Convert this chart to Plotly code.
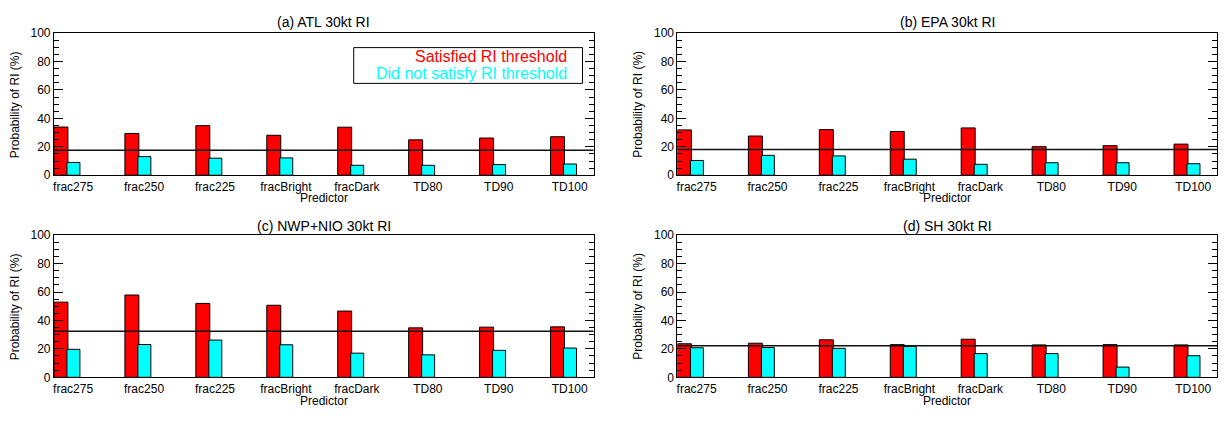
import plotly.graph_objects as go

categories = ["frac275", "frac250", "frac225", "fracBright", "fracDark", "TD80", "TD90", "TD100"]
panel_titles = ["(a) ATL 30kt RI", "(b) EPA 30kt RI", "(c) NWP+NIO 30kt RI", "(d) SH 30kt RI"]

sat_atl = [33.9, 29.4, 34.9, 28.1, 33.8, 24.9, 26.2, 27.1]
not_atl = [9.0, 13.1, 12.0, 12.2, 7.0, 7.0, 7.5, 7.9]
base_atl = 17.5

sat_epa = [31.9, 27.6, 32.1, 30.8, 33.3, 20.1, 20.8, 21.9]
not_epa = [10.4, 14.0, 13.6, 11.3, 7.7, 8.8, 8.8, 8.1]
base_epa = 18.1

sat_nwp = [52.9, 57.9, 52.0, 50.7, 46.6, 34.8, 35.3, 35.5]
not_nwp = [19.7, 23.1, 26.2, 22.9, 17.0, 15.8, 19.0, 20.6]
base_nwp = 32.4

sat_sh = [23.6, 24.0, 26.4, 23.0, 26.8, 22.8, 23.0, 22.8]
not_sh = [20.8, 21.0, 20.4, 21.7, 16.7, 16.7, 7.2, 15.2]
base_sh = 22.2

legend_labels = ["Satisfied RI threshold", "Did not satisfy RI threshold"]
colors = ["#FF0000", "#00FFFF"]

panels = [
    (sat_atl, not_atl, base_atl),
    (sat_epa, not_epa, base_epa),
    (sat_nwp, not_nwp, base_nwp),
    (sat_sh, not_sh, base_sh),
]

W, H = 1225, 423
FONT = "Liberation Sans, Arial, Helvetica, sans-serif"
xdoms = [[53 / W, 593 / W], [677 / W, 1217 / W]]
ydoms = [[1 - 174 / H, 1 - 27 / H], [1 - 383 / H, 1 - 236 / H]]
title_y = [1 - 16 / H, 1 - 226 / H]
pred_y = [1 - 198 / H, 1 - 407 / H]

fig = go.Figure()
layout = dict(
    width=W, height=H, margin=dict(l=0, r=0, t=0, b=0),
    paper_bgcolor="white", plot_bgcolor="white",
    showlegend=False, barmode="overlay",
    font=dict(family=FONT, color="black", size=12),
)
annotations = []
shapes = []
xs = list(range(len(categories)))
for k, (sat, nots, base) in enumerate(panels):
    r, c = divmod(k, 2)
    sfx = "" if k == 0 else str(k + 1)
    fig.add_trace(go.Bar(x=xs, y=sat, width=0.197, offset=0.0,
                         marker=dict(color=colors[0], line=dict(color="black", width=1)),
                         xaxis="x" + sfx, yaxis="y" + sfx, name=legend_labels[0]))
    fig.add_trace(go.Bar(x=xs, y=nots, width=0.183, offset=0.183,
                         marker=dict(color=colors[1], line=dict(color="black", width=1)),
                         xaxis="x" + sfx, yaxis="y" + sfx, name=legend_labels[1]))
    layout["xaxis" + sfx] = dict(
        domain=xdoms[c], anchor="y" + sfx, range=[0, 7.606],
        tickmode="array", tickvals=[i + 0.27 for i in xs], ticktext=categories,
        ticks="", showline=True, linecolor="black", linewidth=1, mirror=True,
        showgrid=False, zeroline=False, tickfont=dict(size=12, family=FONT),
    )
    layout["yaxis" + sfx] = dict(
        domain=ydoms[r], anchor="x" + sfx, range=[0, 100],
        tickmode="linear", tick0=0, dtick=20,
        ticks="inside", ticklen=9, tickwidth=1, tickcolor="black",
        minor=dict(dtick=5, ticks="inside", ticklen=5, tickcolor="black", tickwidth=1),
        showline=True, linecolor="black", linewidth=1, mirror="allticks",
        showgrid=False, zeroline=False, tickfont=dict(size=12, family=FONT),
    )
    shapes.append(dict(type="line", xref="x" + sfx + " domain", yref="y" + sfx,
                       x0=0, x1=1, y0=base, y1=base,
                       line=dict(color="#111111", width=1.5)))
    cx = (xdoms[c][0] + xdoms[c][1]) / 2
    annotations.append(dict(text=panel_titles[k], x=cx, y=title_y[r], xref="paper", yref="paper",
                            xanchor="center", yanchor="middle", showarrow=False,
                            font=dict(size=14, family=FONT)))
    annotations.append(dict(text="Predictor", x=cx, y=pred_y[r], xref="paper", yref="paper",
                            xanchor="center", yanchor="middle", showarrow=False,
                            font=dict(size=12, family=FONT)))
    ax_x = (14 if c == 0 else 638) / W
    annotations.append(dict(text="Probability of RI (%)", x=ax_x, y=(ydoms[r][0] + ydoms[r][1]) / 2,
                            xref="paper", yref="paper", xanchor="center", yanchor="middle",
                            textangle=-90, showarrow=False, font=dict(size=12, family=FONT)))

# legend box in panel (a)
shapes.append(dict(type="rect", xref="paper", yref="paper",
                   x0=353 / W, x1=582 / W, y0=1 - 79 / H, y1=1 - 42 / H,
                   line=dict(color="black", width=1), fillcolor="white", layer="above"))
for j, (lab, col) in enumerate(zip(legend_labels, colors)):
    annotations.append(dict(text=lab, x=568 / W, y=1 - (51.5 + 17 * j) / H, xref="paper", yref="paper",
                            xanchor="right", yanchor="middle", showarrow=False,
                            font=dict(size=16, color=col, family=FONT)))

layout["annotations"] = annotations
layout["shapes"] = shapes
fig.update_layout(**layout)
fig.write_html("out.html", config={"displayModeBar": False},
               post_script="document.body.style.margin='0px';document.body.style.overflow='hidden';")
